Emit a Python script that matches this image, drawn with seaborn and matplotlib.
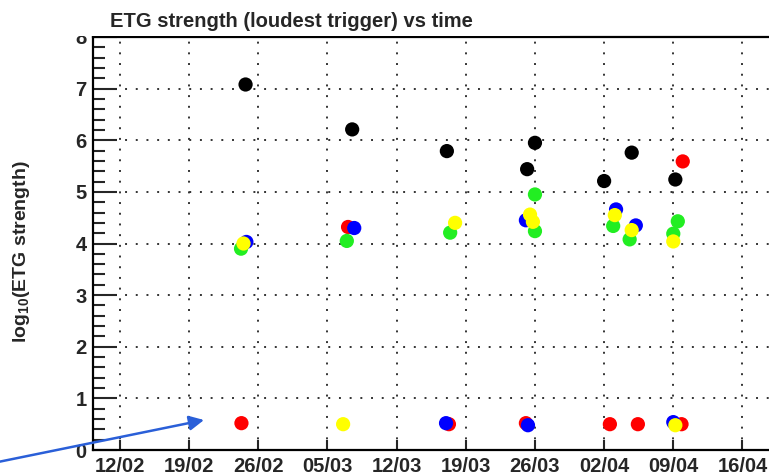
import matplotlib
matplotlib.use("Agg")
import matplotlib.pyplot as plt
import matplotlib.dates as mdates
import matplotlib.ticker as mticker
from matplotlib.patches import Rectangle
import pandas as pd
import seaborn as sns

# ---------------- data ----------------
black_times = ["2007-02-24 17:00", "2007-03-07 12:00", "2007-03-17 02:00", "2007-03-25 05:00",
               "2007-03-26 00:00", "2007-04-02 00:00", "2007-04-04 19:00", "2007-04-09 05:00"]
black_vals = [7.08, 6.21, 5.79, 5.44, 5.95, 5.21, 5.76, 5.24]

red_times = ["2007-02-24 07:00", "2007-03-07 02:00", "2007-03-17 07:00", "2007-03-25 02:00",
             "2007-04-02 14:00", "2007-04-05 10:00", "2007-04-09 23:00", "2007-04-09 20:00"]
red_vals = [0.52, 4.32, 0.50, 0.52, 0.50, 0.50, 5.59, 0.50]

blue_times = ["2007-02-24 19:00", "2007-03-07 17:00", "2007-03-17 00:00", "2007-03-25 02:00",
              "2007-03-25 07:00", "2007-04-03 05:00", "2007-04-05 05:00", "2007-04-09 00:00"]
blue_vals = [4.03, 4.30, 0.52, 4.45, 0.48, 4.66, 4.35, 0.54]

green_times = ["2007-02-24 06:00", "2007-03-06 23:00", "2007-03-17 10:00", "2007-03-26 00:00",
               "2007-03-26 00:00", "2007-04-02 22:00", "2007-04-04 14:00", "2007-04-09 11:00",
               "2007-04-09 00:00"]
green_vals = [3.90, 4.05, 4.21, 4.95, 4.24, 4.34, 4.08, 4.43, 4.19]

yellow_times = ["2007-02-24 12:00", "2007-03-06 14:00", "2007-03-17 22:00", "2007-03-25 12:00",
                "2007-03-25 19:00", "2007-04-03 02:00", "2007-04-04 19:00", "2007-04-09 00:00",
                "2007-04-09 05:00"]
yellow_vals = [4.00, 0.50, 4.40, 4.56, 4.42, 4.55, 4.26, 4.04, 0.48]

tick_dates = ["2007-02-12", "2007-02-19", "2007-02-26", "2007-03-05", "2007-03-12",
              "2007-03-19", "2007-03-26", "2007-04-02", "2007-04-09", "2007-04-16"]
tick_labels = ["12/02", "19/02", "26/02", "05/03", "12/03", "19/03", "26/03", "02/04", "09/04", "16/04"]
y_ticks = [0, 1, 2, 3, 4, 5, 6, 7, 8]

title = "ETG strength (loudest trigger) vs time"
ylabel = r"log$_{\mathbf{10}}$(ETG strength)"

series = {
    "black": (black_times, black_vals),
    "red": (red_times, red_vals),
    "blue": (blue_times, blue_vals),
    "green": (green_times, green_vals),
    "yellow": (yellow_times, yellow_vals),
}
palette = {"black": "#000000", "red": "#ff0000", "blue": "#0000ff",
           "green": "#22ee22", "yellow": "#ffff00"}

rows = []
for name, (ts, vs) in series.items():
    for t, v in zip(ts, vs):
        rows.append({"time": pd.Timestamp(t), "value": v, "series": name})
df = pd.DataFrame(rows)
df["tnum"] = mdates.date2num(df["time"])

# ---------------- style ----------------
sns.set_style("ticks")
plt.rcParams["font.family"] = ["Liberation Sans", "DejaVu Sans"]
plt.rcParams["font.weight"] = "bold"
plt.rcParams["mathtext.fontset"] = "custom"
plt.rcParams["mathtext.rm"] = "Liberation Sans:bold"
plt.rcParams["mathtext.bf"] = "Liberation Sans:bold"

W, H = 769, 476
fig = plt.figure(figsize=(W / 100, H / 100), dpi=100)
L, R, T, B = 93, 775, 37, 450
ax = fig.add_axes([L / W, 1 - B / H, (R - L) / W, (B - T) / H])

sns.scatterplot(data=df, x="tnum", y="value", hue="series", palette=palette,
                s=105, linewidth=0, legend=False, ax=ax, zorder=3)

px_per_day = 9.88
t0 = mdates.date2num(pd.Timestamp(tick_dates[0]))
ax.set_xlim(t0 - (120 - L) / px_per_day, t0 + (R - 120) / px_per_day)
ax.set_ylim(0, 8)

ax.set_xticks(mdates.date2num(pd.to_datetime(tick_dates)))
ax.set_xticklabels(tick_labels)
ax.set_yticks(y_ticks)
ax.set_yticklabels([str(v) for v in y_ticks])
ax.yaxis.set_minor_locator(mticker.MultipleLocator(0.2))

ax.tick_params(axis="y", which="major", direction="in", length=17.5, width=1.5, pad=4.5,
               labelsize=14.5)
ax.tick_params(axis="y", which="minor", direction="in", length=8.5, width=1.5)
ax.tick_params(axis="x", which="major", direction="in", length=7.5, width=1.5, pad=5,
               labelsize=14.5)
for lab in ax.get_xticklabels() + ax.get_yticklabels():
    lab.set_fontweight("bold")

ax.grid(True, which="major", color="#333333", linestyle=(0, (1, 4.5)), linewidth=1.4)
ax.set_axisbelow(True)
for side in ["left", "bottom", "top"]:
    ax.spines[side].set_linewidth(1.6)
    ax.spines[side].set_color("black")
ax.spines["right"].set_visible(False)
ax.set_xlabel("")
ax.set_ylabel("")

# title pave (covers the top of the "8" label, as in the reference)
fig.patches.append(Rectangle((60 / W, 1 - 35.5 / H), 500 / W, 35.5 / H,
                             transform=fig.transFigure, facecolor="white",
                             edgecolor="none", zorder=5))
fig.text(110 / W, 1 - 27 / H, title, ha="left", va="baseline", fontsize=14.5,
         fontweight="bold", zorder=6)

fig.text(22 / W, 1 - 252 / H, ylabel, rotation=90, ha="center", va="center",
         fontsize=14, fontweight="bold")

# annotation arrow
ax.annotate("", xy=(204 / W, 1 - 420 / H), xytext=(-2 / W, 1 - 462 / H),
            xycoords="figure fraction", textcoords="figure fraction",
            arrowprops=dict(arrowstyle="-|>", color="#2a5fd8", lw=1.8,
                            mutation_scale=22, shrinkA=0, shrinkB=0),
            annotation_clip=False)

fig.savefig("out.png", dpi=100)
